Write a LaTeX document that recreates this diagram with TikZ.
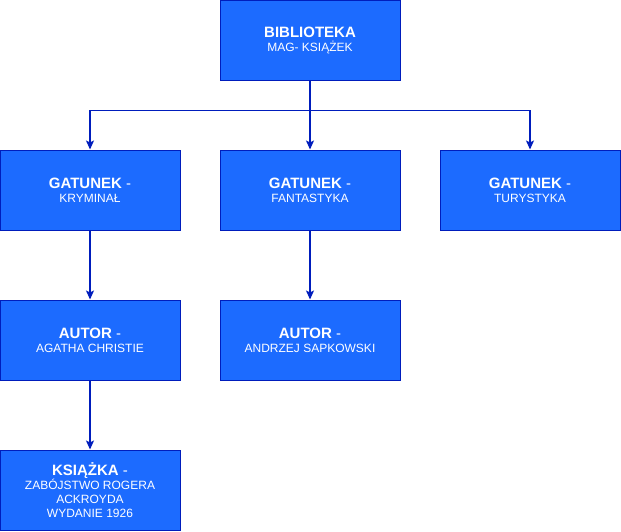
\documentclass[tikz,border=0pt]{standalone}
\usepackage{fontspec}
\setmainfont{Liberation Sans}
\usetikzlibrary{arrows.meta}
\definecolor{tilefill}{HTML}{1C6BFF}
\definecolor{tileline}{HTML}{001DBC}

\begin{document}
\begin{tikzpicture}[x=1pt,y=-1pt,
	tile/.style={draw=tileline,fill=tilefill,line width=1pt,text=white,
		minimum width=180pt,minimum height=80pt,align=center,inner sep=0pt,
		font=\fontsize{12}{14}\selectfont},
	link/.style={draw=tileline,line width=1.3pt,-{Stealth[length=9pt,width=8pt,inset=2pt]}}]
\useasboundingbox (0,0) rectangle (621,531);
%----------------------------
% Root
%----------------------------
\node[tile] (biblioteka) at (310,40)
	{{\fontsize{15}{16}\selectfont\bfseries BIBLIOTEKA}\\MAG- KSIĄŻEK};

%----------------------------
% Genres
%----------------------------
\node[tile] (kryminal) at (90,190)
	{{\fontsize{15}{16}\selectfont\textbf{GATUNEK} -}\\KRYMINAŁ};
\node[tile] (fantastyka) at (310,190)
	{{\fontsize{15}{16}\selectfont\textbf{GATUNEK} -}\\FANTASTYKA};
\node[tile] (turystyka) at (530,190)
	{{\fontsize{15}{16}\selectfont\textbf{GATUNEK} -}\\TURYSTYKA};

%----------------------------
% Authors
%----------------------------
\node[tile] (christie) at (90,340)
	{{\fontsize{15}{16}\selectfont\textbf{AUTOR} -}\\AGATHA CHRISTIE};
\node[tile] (sapkowski) at (310,340)
	{{\fontsize{15}{16}\selectfont\textbf{AUTOR} -}\\ANDRZEJ SAPKOWSKI};

%----------------------------
% Book
%----------------------------
\node[tile] (ksiazka) at (90,490)
	{{\fontsize{15}{16}\selectfont\textbf{KSIĄŻKA} -}\\ZABÓJSTWO ROGERA\\ACKROYDA\\WYDANIE 1926};

% Connectors
\draw[link] (biblioteka.south) -- ++(0,30) -| (kryminal.north);
\draw[link] (biblioteka.south) -- (fantastyka.north);
\draw[link] (biblioteka.south) -- ++(0,30) -| (turystyka.north);
\draw[link] (kryminal) -- (christie);
\draw[link] (fantastyka) -- (sapkowski);
\draw[link] (christie) -- (ksiazka);

\end{tikzpicture}
\end{document}
